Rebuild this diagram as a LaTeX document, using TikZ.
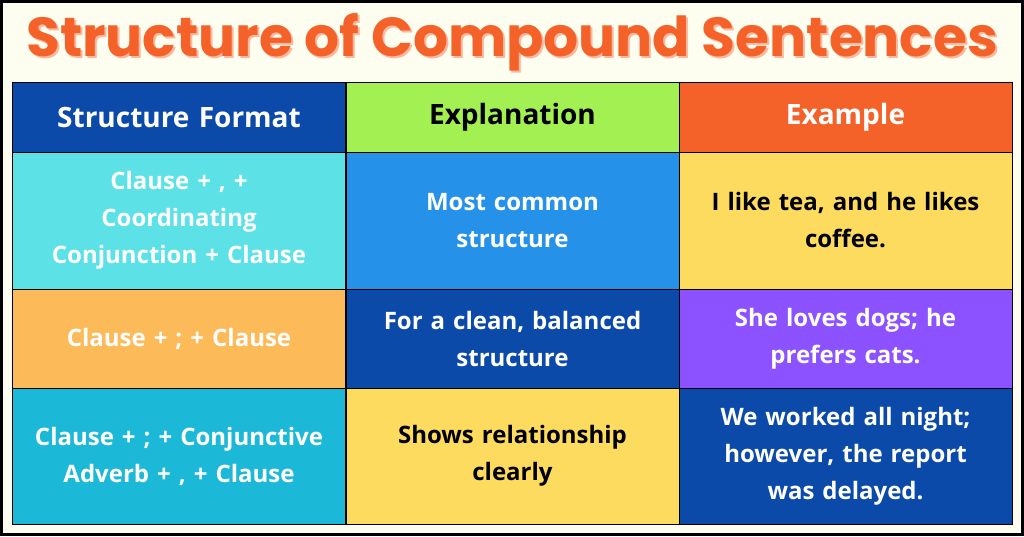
\documentclass[tikz,border=0pt]{standalone}
\usepackage{fontspec}
\setmainfont{Poppins}
\newfontfamily\celltext{Open Sans}
\definecolor{bgc}{HTML}{FDFDF0}
\definecolor{dblue}{HTML}{0B4AA8}
\definecolor{lgreen}{HTML}{A3F052}
\definecolor{orng}{HTML}{F4622A}
\definecolor{cyanA}{HTML}{5CE1E6}
\definecolor{blueA}{HTML}{2591E8}
\definecolor{yel}{HTML}{FDDB5E}
\definecolor{lorng}{HTML}{FDBA58}
\definecolor{purp}{HTML}{8C52FF}
\definecolor{cyanB}{HTML}{1CB8D8}
\definecolor{titlec}{HTML}{F4622A}
\tikzset{
 cell/.style={draw=black,line width=1pt,minimum width=333pt,inner sep=0pt,align=center,font=\celltext\fontsize{24}{37}\selectfont\bfseries,text width=330pt},
 hd/.style={cell,font=\celltext\fontsize{28}{34}\selectfont\bfseries}
}
\begin{document}
\begin{tikzpicture}[x=1pt,y=-1pt]
\fill[bgc] (0,0) rectangle (1024,536);
\draw[line width=3pt] (1.5,1.5) rectangle (1022.5,534.5);
\node[font=\fontsize{55}{60}\selectfont\bfseries,text=titlec!45!white] (tsh) at (514,44) {Structure of Compound Sentences};
\node[font=\fontsize{55}{60}\selectfont\bfseries,text=titlec] (title) at (512,42) {Structure of Compound Sentences};
% header
\node[hd,fill=dblue,text=white,minimum height=70pt] (h1) at (179,117) {Structure Format};
\node[hd,fill=lgreen,text=black,minimum height=70pt] (h2) at (512.5,117) {Explanation};
\node[hd,fill=orng,text=white,minimum height=70pt] (h3) at (845.5,117) {Example};
% row1
\node[cell,fill=cyanA,text=white,minimum height=137pt] (a1) at (179,220.5) {Clause + , +\\Coordinating\\Conjunction + Clause};
\node[cell,fill=blueA,text=white,minimum height=137pt] (b1) at (512.5,220.5) {Most common\\structure};
\node[cell,fill=yel,text=black,minimum height=137pt] (c1) at (845.5,220.5) {I like tea, and he likes\\coffee.};
% row2
\node[cell,fill=lorng,text=white,minimum height=99pt] (a2) at (179,338.5) {Clause + ; + Clause};
\node[cell,fill=dblue,text=white,minimum height=99pt] (b2) at (512.5,338.5) {For a clean, balanced\\structure};
\node[cell,fill=purp,text=white,minimum height=99pt] (c2) at (845.5,338.5) {She loves dogs; he\\prefers cats.};
% row3
\node[cell,fill=cyanB,text=white,minimum height=136pt] (a3) at (179,456) {Clause + ; + Conjunctive\\Adverb + , + Clause};
\node[cell,fill=yel,text=black,minimum height=136pt] (b3) at (512.5,456) {Shows relationship\\clearly};
\node[cell,fill=dblue,text=white,minimum height=136pt] (c3) at (845.5,456) {We worked all night;\\however, the report\\was delayed.};
\end{tikzpicture}
\end{document}
